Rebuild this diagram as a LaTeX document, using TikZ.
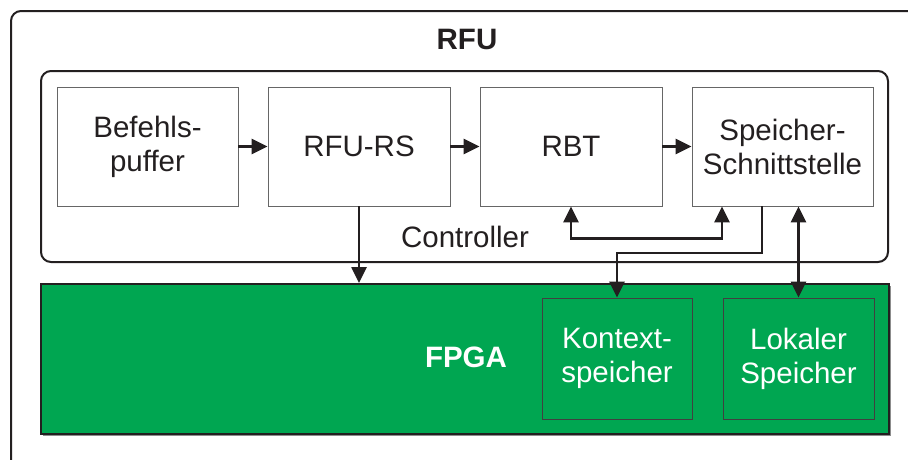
\documentclass[tikz,border=0pt]{standalone}
\usepackage{fontspec}
\setmainfont{Liberation Sans}
\usetikzlibrary{arrows.meta,calc}
\definecolor{fpgagreen}{RGB}{0,166,81}
\definecolor{linedark}{RGB}{35,31,32}
\tikzset{
  txt/.style={font=\fontsize{29.5}{34}\selectfont, align=center, text=linedark},
  unit/.style={txt, draw=black!60, line width=0.9pt, fill=white, inner sep=0pt,
    minimum height=119pt},
  mem/.style={txt, text=white, draw=black!75, line width=0.9pt, fill=fpgagreen,
    inner sep=0pt, minimum width=150pt, minimum height=121pt},
  frame/.style={draw=linedark, line width=2pt, rounded corners=10pt},
  link/.style={draw=linedark, line width=2.6pt,
    -{Triangle[length=16pt,width=15pt]}},
  dlink/.style={draw=linedark, line width=2.6pt,
    {Triangle[length=16pt,width=15pt]}-{Triangle[length=16pt,width=15pt]}}
}
\begin{document}
\begin{tikzpicture}[x=1pt,y=-1pt]
  \useasboundingbox (0,0) rectangle (908,459);
  \fill[white] (0,0) rectangle (908,459);

  % outer RFU frame (runs past the right and lower edges)
  \begin{scope}
    \clip (0,0) rectangle (908,459);
    \draw[frame] (11,11) rectangle (930,475);
  \end{scope}
  \node[txt, font=\fontsize{29.5}{34}\selectfont\bfseries] (rfu) at (467,39) {RFU};

  % controller frame
  \draw[frame] (41,71) rectangle (888,262);
  \node[txt] (ctrl) at (465,237) {Controller};

  % pipeline units
  \node[unit, minimum width=181pt] (bp)  at (147.5,146.5) {Befehls-\\puffer};
  \node[unit, minimum width=182pt] (rs)  at (359,146.5)   {RFU-RS};
  \node[unit, minimum width=182pt] (rbt) at (571,146.5)   {RBT};
  \node[unit, minimum width=181pt] (si)  at (782.5,146.5) {Speicher-\\Schnittstelle};

  % FPGA area
  \draw[draw=black!45, line width=1.5pt] (43,435.5) -- (890.5,435.5) -- (890.5,286);
  \node[draw=linedark, line width=2pt, fill=fpgagreen, minimum width=848pt,
        minimum height=150pt, inner sep=0pt] (fpga) at (465,359) {};
  \node[txt, text=white, font=\fontsize{29.5}{34}\selectfont\bfseries] (fpgalbl) at (466,357) {FPGA};
  \node[mem] (ks) at (617,358.5)   {Kontext-\\speicher};
  \node[mem, minimum width=151pt] (ls) at (798.5,358.5) {Lokaler\\Speicher};

  % connections
  \draw[link] (bp.east) -- (rs.west);
  \draw[link] (rs.east) -- (rbt.west);
  \draw[link] (rbt.east) -- (si.west);
  \draw[link] (rs.south) -- (rs.south |- fpga.north);
  \draw[dlink] (rbt.south) -- ++(0,32) -| ([xshift=-60.5pt]si.south);
  \draw[link] ([xshift=-20.5pt]si.south) -- ++(0,46.5) -| (ks.north);
  \draw[dlink] (si.south -| ls.north) -- (ls.north);
\end{tikzpicture}
\end{document}
